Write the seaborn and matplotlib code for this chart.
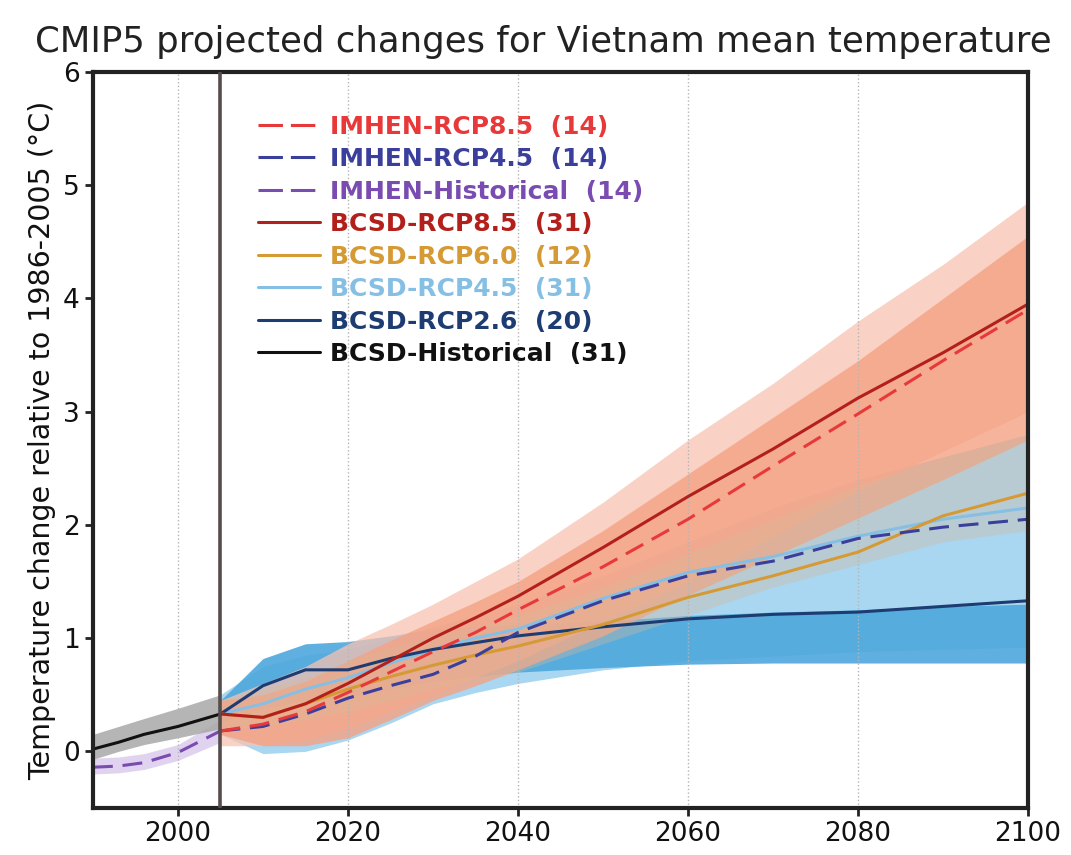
import numpy as np
import pandas as pd
import matplotlib
matplotlib.use('Agg')
import matplotlib.pyplot as plt
import seaborn as sns

# historical period
hist_years = [1990, 1993, 1996, 2000, 2005]
bcsd_hist = [0.02, 0.08, 0.15, 0.22, 0.33]
bcsd_hist_lo = [-0.07, 0.0, 0.06, 0.12, 0.20]
bcsd_hist_hi = [0.15, 0.22, 0.29, 0.38, 0.50]
imhen_hist = [-0.14, -0.13, -0.10, -0.01, 0.18]
imhen_hist_lo = [-0.20, -0.19, -0.16, -0.08, 0.08]
imhen_hist_hi = [-0.06, -0.05, -0.02, 0.06, 0.28]

# projections
proj_years = [2005, 2010, 2015, 2020, 2025, 2030, 2035, 2040, 2050, 2060, 2070, 2080, 2090, 2100]
imhen_85 = [0.18, 0.24, 0.35, 0.52, 0.70, 0.88, 1.05, 1.25, 1.63, 2.05, 2.52, 2.98, 3.45, 3.90]
imhen_45 = [0.18, 0.22, 0.33, 0.47, 0.58, 0.68, 0.84, 1.05, 1.33, 1.55, 1.68, 1.88, 1.98, 2.05]
bcsd_85 = [0.33, 0.30, 0.42, 0.60, 0.80, 1.00, 1.18, 1.37, 1.80, 2.25, 2.67, 3.12, 3.52, 3.95]
bcsd_60 = [0.33, 0.30, 0.42, 0.55, 0.66, 0.76, 0.85, 0.93, 1.12, 1.36, 1.55, 1.76, 2.08, 2.28]
bcsd_45 = [0.33, 0.42, 0.55, 0.65, 0.78, 0.90, 1.00, 1.08, 1.35, 1.58, 1.72, 1.90, 2.05, 2.15]
bcsd_26 = [0.33, 0.58, 0.72, 0.72, 0.82, 0.90, 0.96, 1.02, 1.10, 1.17, 1.21, 1.23, 1.28, 1.33]

imhen_85_lo = [0.05, 0.05, 0.10, 0.20, 0.35, 0.50, 0.65, 0.80, 1.15, 1.50, 1.90, 2.30, 2.65, 3.00]
imhen_85_hi = [0.45, 0.60, 0.75, 0.95, 1.12, 1.30, 1.50, 1.70, 2.20, 2.75, 3.25, 3.80, 4.30, 4.85]
bcsd_85_lo = [0.15, 0.05, 0.05, 0.12, 0.28, 0.45, 0.58, 0.72, 1.02, 1.38, 1.72, 2.06, 2.40, 2.75]
bcsd_85_hi = [0.45, 0.50, 0.62, 0.80, 0.98, 1.15, 1.32, 1.50, 1.95, 2.45, 2.95, 3.45, 4.00, 4.55]
bcsd_60_lo = [0.20, 0.22, 0.28, 0.35, 0.45, 0.55, 0.62, 0.70, 0.95, 1.20, 1.45, 1.65, 1.85, 1.95]
bcsd_60_hi = [0.45, 0.55, 0.65, 0.80, 0.92, 1.02, 1.10, 1.20, 1.45, 1.75, 2.05, 2.35, 2.60, 2.80]
bcsd_45_lo = [0.15, -0.02, 0.00, 0.10, 0.25, 0.42, 0.52, 0.60, 0.72, 0.80, 0.84, 0.88, 0.90, 0.92]
bcsd_45_hi = [0.50, 0.75, 0.85, 0.90, 1.00, 1.10, 1.20, 1.30, 1.55, 1.85, 2.15, 2.40, 2.60, 2.80]
bcsd_26_lo = [0.25, 0.38, 0.45, 0.48, 0.55, 0.62, 0.66, 0.70, 0.74, 0.77, 0.78, 0.78, 0.78, 0.78]
bcsd_26_hi = [0.45, 0.82, 0.95, 0.97, 1.02, 1.08, 1.10, 1.12, 1.15, 1.20, 1.23, 1.25, 1.28, 1.30]

labels = ['IMHEN-RCP8.5  (14)', 'IMHEN-RCP4.5  (14)', 'IMHEN-Historical  (14)',
          'BCSD-RCP8.5  (31)', 'BCSD-RCP6.0  (12)', 'BCSD-RCP4.5  (31)',
          'BCSD-RCP2.6  (20)', 'BCSD-Historical  (31)']
colors = ['#e8393a', '#3b3f9c', '#7a4bb0', '#b3201c', '#d69a35', '#86bfe4', '#1d3c72', '#111111']

sns.set_style('ticks')
plt.rcParams['font.family'] = ['DejaVu Sans']

fig = plt.figure(figsize=(10.71, 8.55), dpi=100)
ax = fig.add_axes([0.0868, 0.055, 0.8730, 0.8608])

# uncertainty bands
ax.fill_between(hist_years, imhen_hist_lo, imhen_hist_hi, color='#d9c8ec', lw=0, alpha=0.8)
ax.fill_between(hist_years, bcsd_hist_lo, bcsd_hist_hi, color='#a8a8a8', lw=0, alpha=0.85)
ax.fill_between(proj_years, bcsd_45_lo, bcsd_45_hi, color='#a9d6f0', lw=0)
ax.fill_between(proj_years, bcsd_26_lo, bcsd_26_hi, color='#4ea8dd', lw=0, alpha=0.9)
ax.fill_between(proj_years, imhen_85_lo, imhen_85_hi, color='#f7c2b2', lw=0, alpha=0.75)
ax.fill_between(proj_years, bcsd_85_lo, bcsd_85_hi, color='#f4a283', lw=0, alpha=0.8)
ax.fill_between(proj_years, bcsd_60_lo, bcsd_60_hi, color='#d8b89a', lw=0, alpha=0.35)

# grid and reference line
for yr in [2000, 2020, 2040, 2060, 2080]:
    ax.axvline(yr, color='#b5b5b5', lw=1, ls=':', zorder=1)
ax.axvline(2005, color='#574c4c', lw=2.6, zorder=4)

lw = 2.2
dash = (0, (6.5, 3.2))
sns.lineplot(x=proj_years, y=bcsd_45, ax=ax, color=colors[5], lw=lw)
sns.lineplot(x=proj_years, y=bcsd_26, ax=ax, color=colors[6], lw=lw)
sns.lineplot(x=proj_years, y=bcsd_60, ax=ax, color=colors[4], lw=lw)
sns.lineplot(x=proj_years, y=imhen_45, ax=ax, color=colors[1], lw=lw, linestyle=dash)
sns.lineplot(x=proj_years, y=bcsd_85, ax=ax, color=colors[3], lw=lw)
sns.lineplot(x=proj_years, y=imhen_85, ax=ax, color=colors[0], lw=lw, linestyle=dash)
sns.lineplot(x=hist_years, y=imhen_hist, ax=ax, color=colors[2], lw=lw, linestyle=dash)
sns.lineplot(x=hist_years, y=bcsd_hist, ax=ax, color=colors[7], lw=lw)

ax.set_xlim(1990, 2100)
ax.set_ylim(-0.5, 6)
ax.set_xticks([2000, 2020, 2040, 2060, 2080, 2100])
ax.set_yticks([0, 1, 2, 3, 4, 5, 6])
ax.tick_params(labelsize=19, length=6, width=2, color='#222222', labelcolor='#111111')
ax.set_ylabel('Temperature change relative to 1986-2005 (°C)', fontsize=20.5, labelpad=5,
              color='#111111')
ax.set_xlabel('')
for s in ax.spines.values():
    s.set_linewidth(3)
    s.set_color('#222222')

styles = ['--', '--', '--', '-', '-', '-', '-', '-']
handles = [plt.Line2D([], [], color=c, lw=lw, ls=(0, (8, 2.6)) if st == '--' else '-')
           for c, st in zip(colors, styles)]
leg = ax.legend(handles, labels, loc='upper left', bbox_to_anchor=(0.176, 0.942),
                frameon=False, borderpad=0, borderaxespad=0, handlelength=2.5,
                handletextpad=0.4, labelspacing=0.34, prop={'size': 18, 'weight': 'bold'})
for t, c in zip(leg.get_texts(), colors):
    t.set_color(c)

fig.text(0.507, 0.951, 'CMIP5 projected changes for Vietnam mean temperature',
         ha='center', va='center', fontsize=25.6, color='#222222')

fig.savefig('out.png', dpi=100)
